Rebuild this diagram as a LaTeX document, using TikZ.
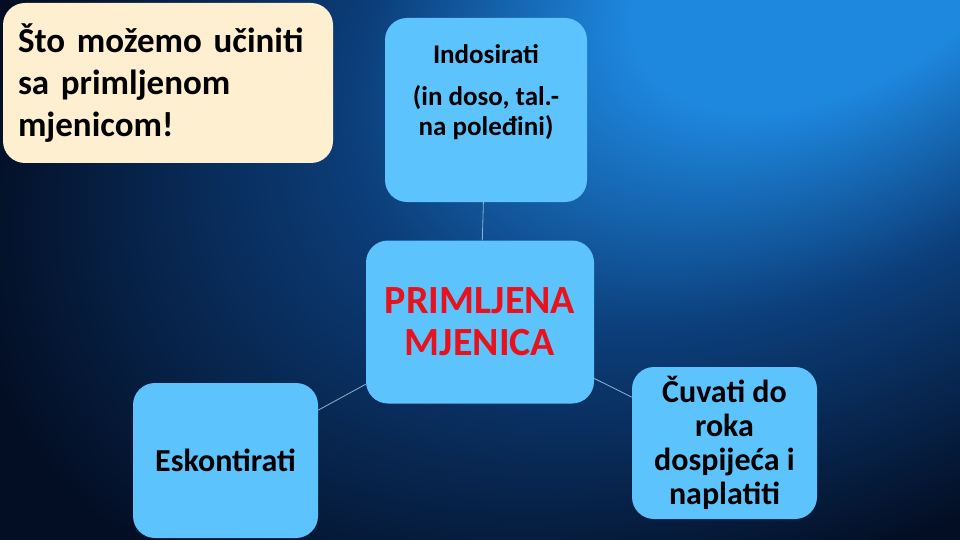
\documentclass[tikz,border=0pt]{standalone}
\usepackage{fontspec}
\setmainfont{Carlito}
\definecolor{bgdark}{RGB}{3,14,36}
\definecolor{bgmid}{RGB}{12,62,122}
\definecolor{bglight}{RGB}{30,135,222}
\definecolor{boxblue}{RGB}{92,195,253}
\definecolor{cream}{RGB}{253,239,208}
\definecolor{redtext}{RGB}{232,18,28}
\definecolor{connc}{RGB}{140,180,210}
\pgfdeclareradialshading{beam}{\pgfpoint{0bp}{0bp}}{%
  color(0bp)=(bglight); color(6bp)=(bglight); color(14bp)=(bgmid);
  color(25bp)=(bgdark); color(50bp)=(bgdark)}
\begin{document}
\begin{tikzpicture}[x=1pt,y=-1pt,
  bluebox/.style={fill=boxblue, draw=none, rounded corners=22pt, align=center, inner sep=0pt},
  titlebox/.style={fill=cream, draw=none, rounded corners=22pt, align=left, inner sep=0pt, text width=300pt},
  conn/.style={draw=connc, line width=0.8pt}]
\useasboundingbox (0,0) rectangle (960,540);
\fill[bgdark] (0,0) rectangle (960,540);
\begin{scope}
  \clip (0,0) rectangle (960,540);
  \begin{scope}[transform canvas={shift={(840,-50)}, rotate=30}]
    \shade[shading=beam] (0,0) ellipse (950 and 560);
  \end{scope}
\end{scope}

\node[titlebox, minimum width=330pt, minimum height=160pt,
      font=\fontsize{35}{42}\selectfont\bfseries] (title) at (168,83)
  {Što možemo učiniti\\sa primljenom\\mjenicom!};

\node[bluebox, minimum width=202pt, minimum height=184pt,
      font=\fontsize{27}{30}\selectfont\bfseries] (ind) at (486,110)
  {Indosirati\\[12pt](in doso, tal.-\\na poleđini)\\[0pt]\strut};

\node[bluebox, minimum width=228pt, minimum height=163pt,
      font=\fontsize{40}{42}\selectfont\bfseries, text=redtext] (cen) at (480,322)
  {PRIMLJENA\\MJENICA};

\node[bluebox, minimum width=185pt, minimum height=155pt,
      font=\fontsize{32}{38}\selectfont\bfseries] (esk) at (225.5,460.5)
  {Eskontirati};

\node[bluebox, minimum width=185pt, minimum height=152pt,
      font=\fontsize{32}{34}\selectfont\bfseries] (cuv) at (724.5,443)
  {Čuvati do\\roka\\dospijeća i\\naplatiti};

\draw[conn] (ind) -- (cen);
\draw[conn] (cen) -- (esk);
\draw[conn] (cen) -- (cuv);
\end{tikzpicture}
\end{document}
